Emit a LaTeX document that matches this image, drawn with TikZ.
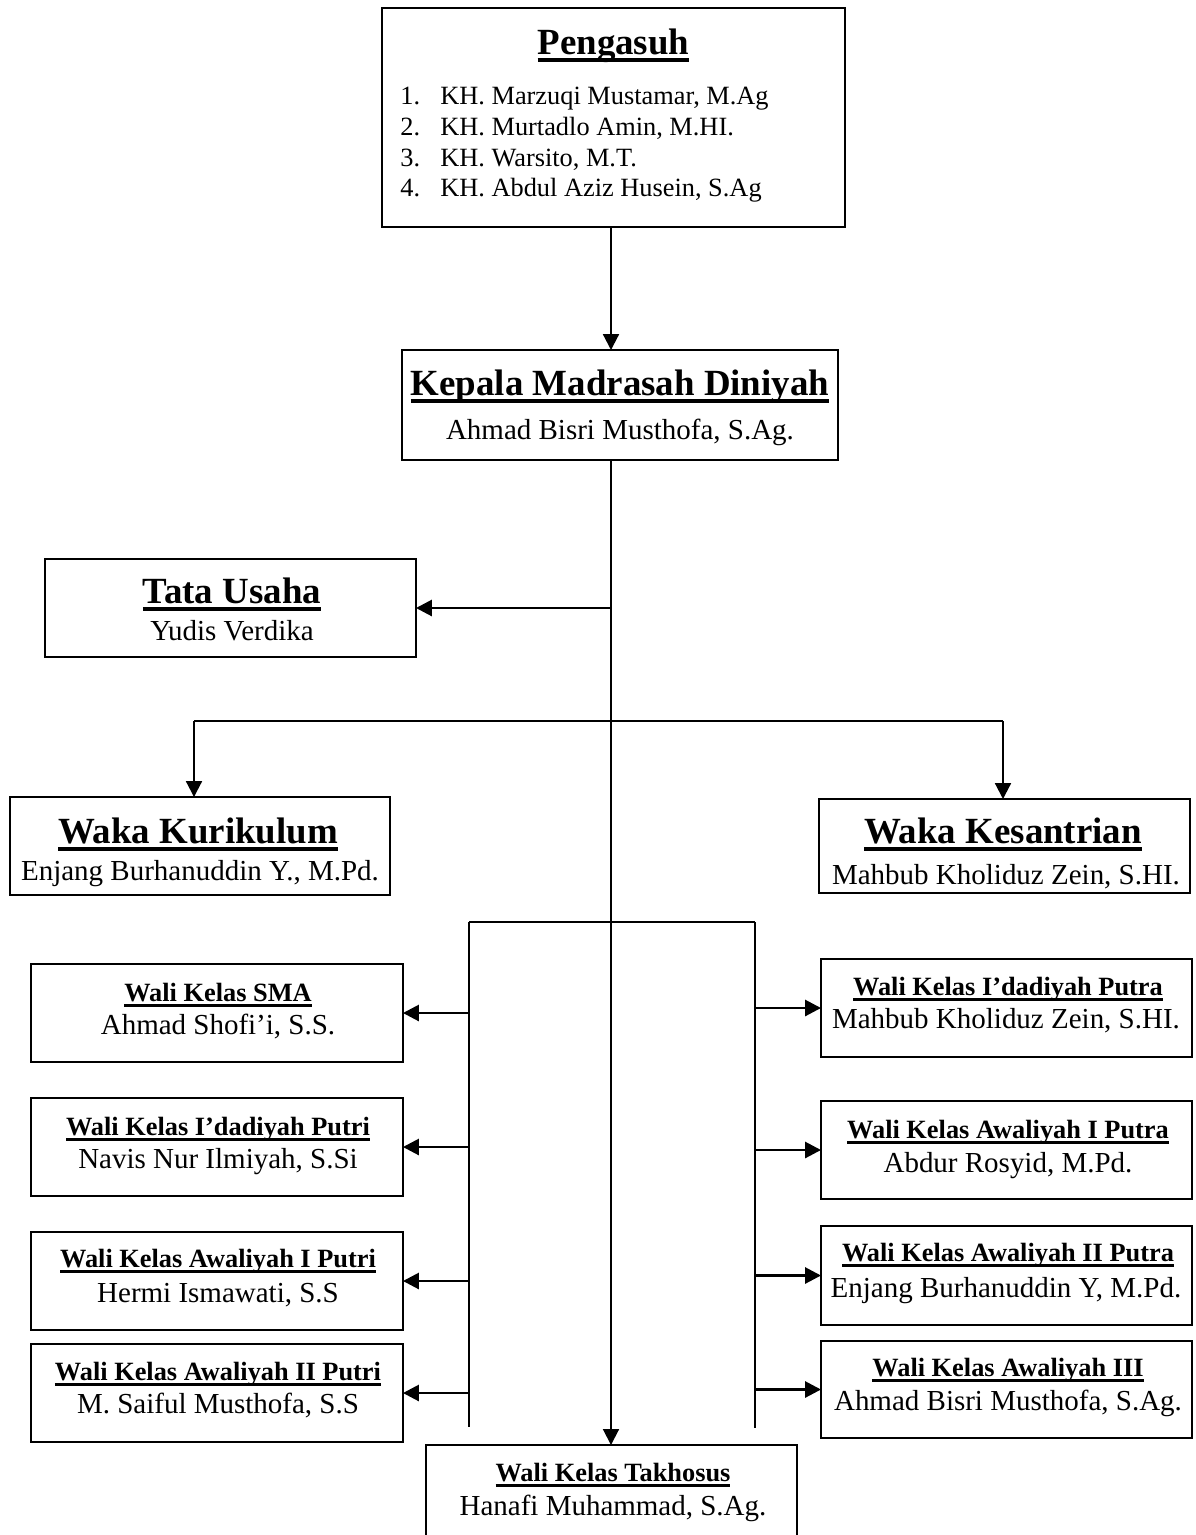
\documentclass[tikz,border=0pt]{standalone}
\usepackage{fontspec}
\setmainfont{Liberation Serif}
\usetikzlibrary{arrows.meta,calc}
\newcommand{\ulx}[1]{\setbox0=\hbox{#1}\rlap{\rule[-0.2em]{\wd0}{0.09em}}\box0}
\begin{document}
\begin{tikzpicture}[x=0.02cm,y=-0.02cm,
  box/.style={draw, line width=1.1pt, inner sep=0pt, outer sep=0pt},
  ttl/.style={font=\fontsize{21}{25}\selectfont\bfseries, anchor=mid, inner sep=0pt, yshift=-3.5pt},
  nm/.style={font=\fontsize{16.5}{20}\selectfont, anchor=mid, inner sep=0pt, yshift=-3pt},
  wt/.style={font=\fontsize{15}{18}\selectfont\bfseries, anchor=mid, inner sep=0pt, yshift=-2.5pt},
  li/.style={font=\fontsize{15}{18}\selectfont, anchor=mid west, inner sep=0pt, yshift=-2.5pt},
  ln/.style={line width=1.1pt},
  arr/.style={line width=1.2pt, -{Triangle[length=9pt,width=9pt]}},
  warr/.style={line width=1.6pt, -{Triangle[length=9pt,width=9pt]}}
]
\useasboundingbox (0,0) rectangle (1196,1535);
\fill[white] (0,0) rectangle (1196,1535);
\clip (0,0) rectangle (1196,1535);

% Pengasuh
\node[box, minimum width=9.26cm, minimum height=4.38cm] (peng) at (613.5,117.5) {};
\node[ttl] (tpeng) at (613.5,44) {\ulx{Pengasuh}};
\node[li] (n1) at (400,96) {1.};
\node[li] (p1) at (440,96) {KH. Marzuqi Mustamar, M.Ag};
\node[li] (n2) at (400,127) {2.};
\node[li] (p2) at (440,127) {KH. Murtadlo Amin, M.HI.};
\node[li] (n3) at (400,158) {3.};
\node[li] (p3) at (440,158) {KH. Warsito, M.T.};
\node[li] (n4) at (400,188) {4.};
\node[li] (p4) at (440,188) {KH. Abdul Aziz Husein, S.Ag};

% Kepala
\node[box, minimum width=8.72cm, minimum height=2.2cm] (kep) at (620,405) {};
\node[ttl] (tkep) at (620,385) {\ulx{Kepala Madrasah Diniyah}};
\node[nm] (nkep) at (620,430) {Ahmad Bisri Musthofa, S.Ag.};

% Tata Usaha
\node[box, minimum width=7.42cm, minimum height=1.96cm] (tata) at (230.5,608) {};
\node[ttl] (ttata) at (232,593) {\ulx{Tata Usaha}};
\node[nm] (ntata) at (232,631) {Yudis Verdika};

% Waka
\node[box, minimum width=7.6cm, minimum height=1.96cm] (wkur) at (200,846) {};
\node[ttl] (twkur) at (198,833) {\ulx{Waka Kurikulum}};
\node[nm] (nwkur) at (200,871) {Enjang Burhanuddin Y., M.Pd.};

\node[box, minimum width=7.42cm, minimum height=1.88cm] (wkes) at (1004.5,846) {};
\node[ttl] (twkes) at (1003,833) {\ulx{Waka Kesantrian}};
\node[nm] (nwkes) at (1006,875) {Mahbub Kholiduz Zein, S.HI.};

% Left wali
\node[box, minimum width=7.44cm, minimum height=1.96cm] (sma) at (217,1013) {};
\node[wt] (tsma) at (218,993) {\ulx{Wali Kelas SMA}};
\node[nm] (nsma) at (218,1025) {Ahmad Shofi’i, S.S.};

\node[box, minimum width=7.44cm, minimum height=1.96cm] (idpi) at (217,1147) {};
\node[wt] (tidpi) at (218,1127) {\ulx{Wali Kelas I’dadiyah Putri}};
\node[nm] (nidpi) at (218,1159) {Navis Nur Ilmiyah, S.Si};

\node[box, minimum width=7.44cm, minimum height=1.96cm] (awpi) at (217,1281) {};
\node[wt] (tawpi) at (218,1259) {\ulx{Wali Kelas Awaliyah I Putri}};
\node[nm] (nawpi) at (218,1293) {Hermi Ismawati, S.S};

\node[box, minimum width=7.44cm, minimum height=1.96cm] (awiipi) at (217,1393) {};
\node[wt] (tawiipi) at (218,1372) {\ulx{Wali Kelas Awaliyah II Putri}};
\node[nm] (nawiipi) at (218,1404) {M. Saiful Musthofa, S.S};

% Right wali
\node[box, minimum width=7.42cm, minimum height=1.96cm] (idpa) at (1006.5,1008) {};
\node[wt] (tidpa) at (1008,987) {\ulx{Wali Kelas I’dadiyah Putra}};
\node[nm] (nidpa) at (1006,1019) {Mahbub Kholiduz Zein, S.HI.};

\node[box, minimum width=7.42cm, minimum height=1.96cm] (awpa) at (1006.5,1150) {};
\node[wt] (tawpa) at (1008,1130) {\ulx{Wali Kelas Awaliyah I Putra}};
\node[nm] (nawpa) at (1008,1163) {Abdur Rosyid, M.Pd.};

\node[box, minimum width=7.42cm, minimum height=1.98cm] (awiipa) at (1006.5,1275.5) {};
\node[wt] (tawiipa) at (1008,1253) {\ulx{Wali Kelas Awaliyah II Putra}};
\node[nm] (nawiipa) at (1006,1288) {Enjang Burhanuddin Y, M.Pd.};

\node[box, minimum width=7.42cm, minimum height=1.94cm] (awiii) at (1006.5,1389.5) {};
\node[wt] (tawiii) at (1008,1368) {\ulx{Wali Kelas Awaliyah III}};
\node[nm] (nawiii) at (1008,1401) {Ahmad Bisri Musthofa, S.Ag.};

% Takhosus
\node[box, minimum width=7.42cm, minimum height=2.3cm] (takh) at (611.5,1502.5) {};
\node[wt] (ttakh) at (613,1473) {\ulx{Wali Kelas Takhosus}};
\node[nm] (ntakh) at (613,1506) {Hanafi Muhammad, S.Ag.};

% coordinates
\coordinate (c0) at (611,0);
\coordinate (j1) at (611,721);
\coordinate (bl) at (194,721);
\coordinate (br) at (1003,721);
\coordinate (L) at (469,922);
\coordinate (R) at (755,922);
\coordinate (Lb) at (469,1427);
\coordinate (Rb) at (755,1428);

% connectors
\draw[arr] (peng.south -| c0) -- (kep.north -| c0);
\draw[ln, -{Triangle[length=9pt,width=9pt]}] (kep.south -| c0) -- (takh.north -| c0);
\draw[warr] (c0 |- tata.east) -- (tata.east);
\draw[ln] (bl) -- (br);
\draw[arr] (bl) -- (bl |- wkur.north);
\draw[arr] (br) -- (br |- wkes.north);
\draw[ln] (L) -- (R);
\draw[ln] (L) -- (Lb);
\draw[ln] (R) -- (Rb);
\draw[warr] (L |- sma.east) -- (sma.east);
\draw[warr] (L |- idpi.east) -- (idpi.east);
\draw[warr] (L |- awpi.east) -- (awpi.east);
\draw[warr] (L |- awiipi.east) -- (awiipi.east);
\draw[warr] (R |- idpa.west) -- (idpa.west);
\draw[warr] (R |- awpa.west) -- (awpa.west);
\draw[warr] (R |- awiipa.west) -- (awiipa.west);
\draw[warr] (R |- awiii.west) -- (awiii.west);
\end{tikzpicture}
\end{document}
